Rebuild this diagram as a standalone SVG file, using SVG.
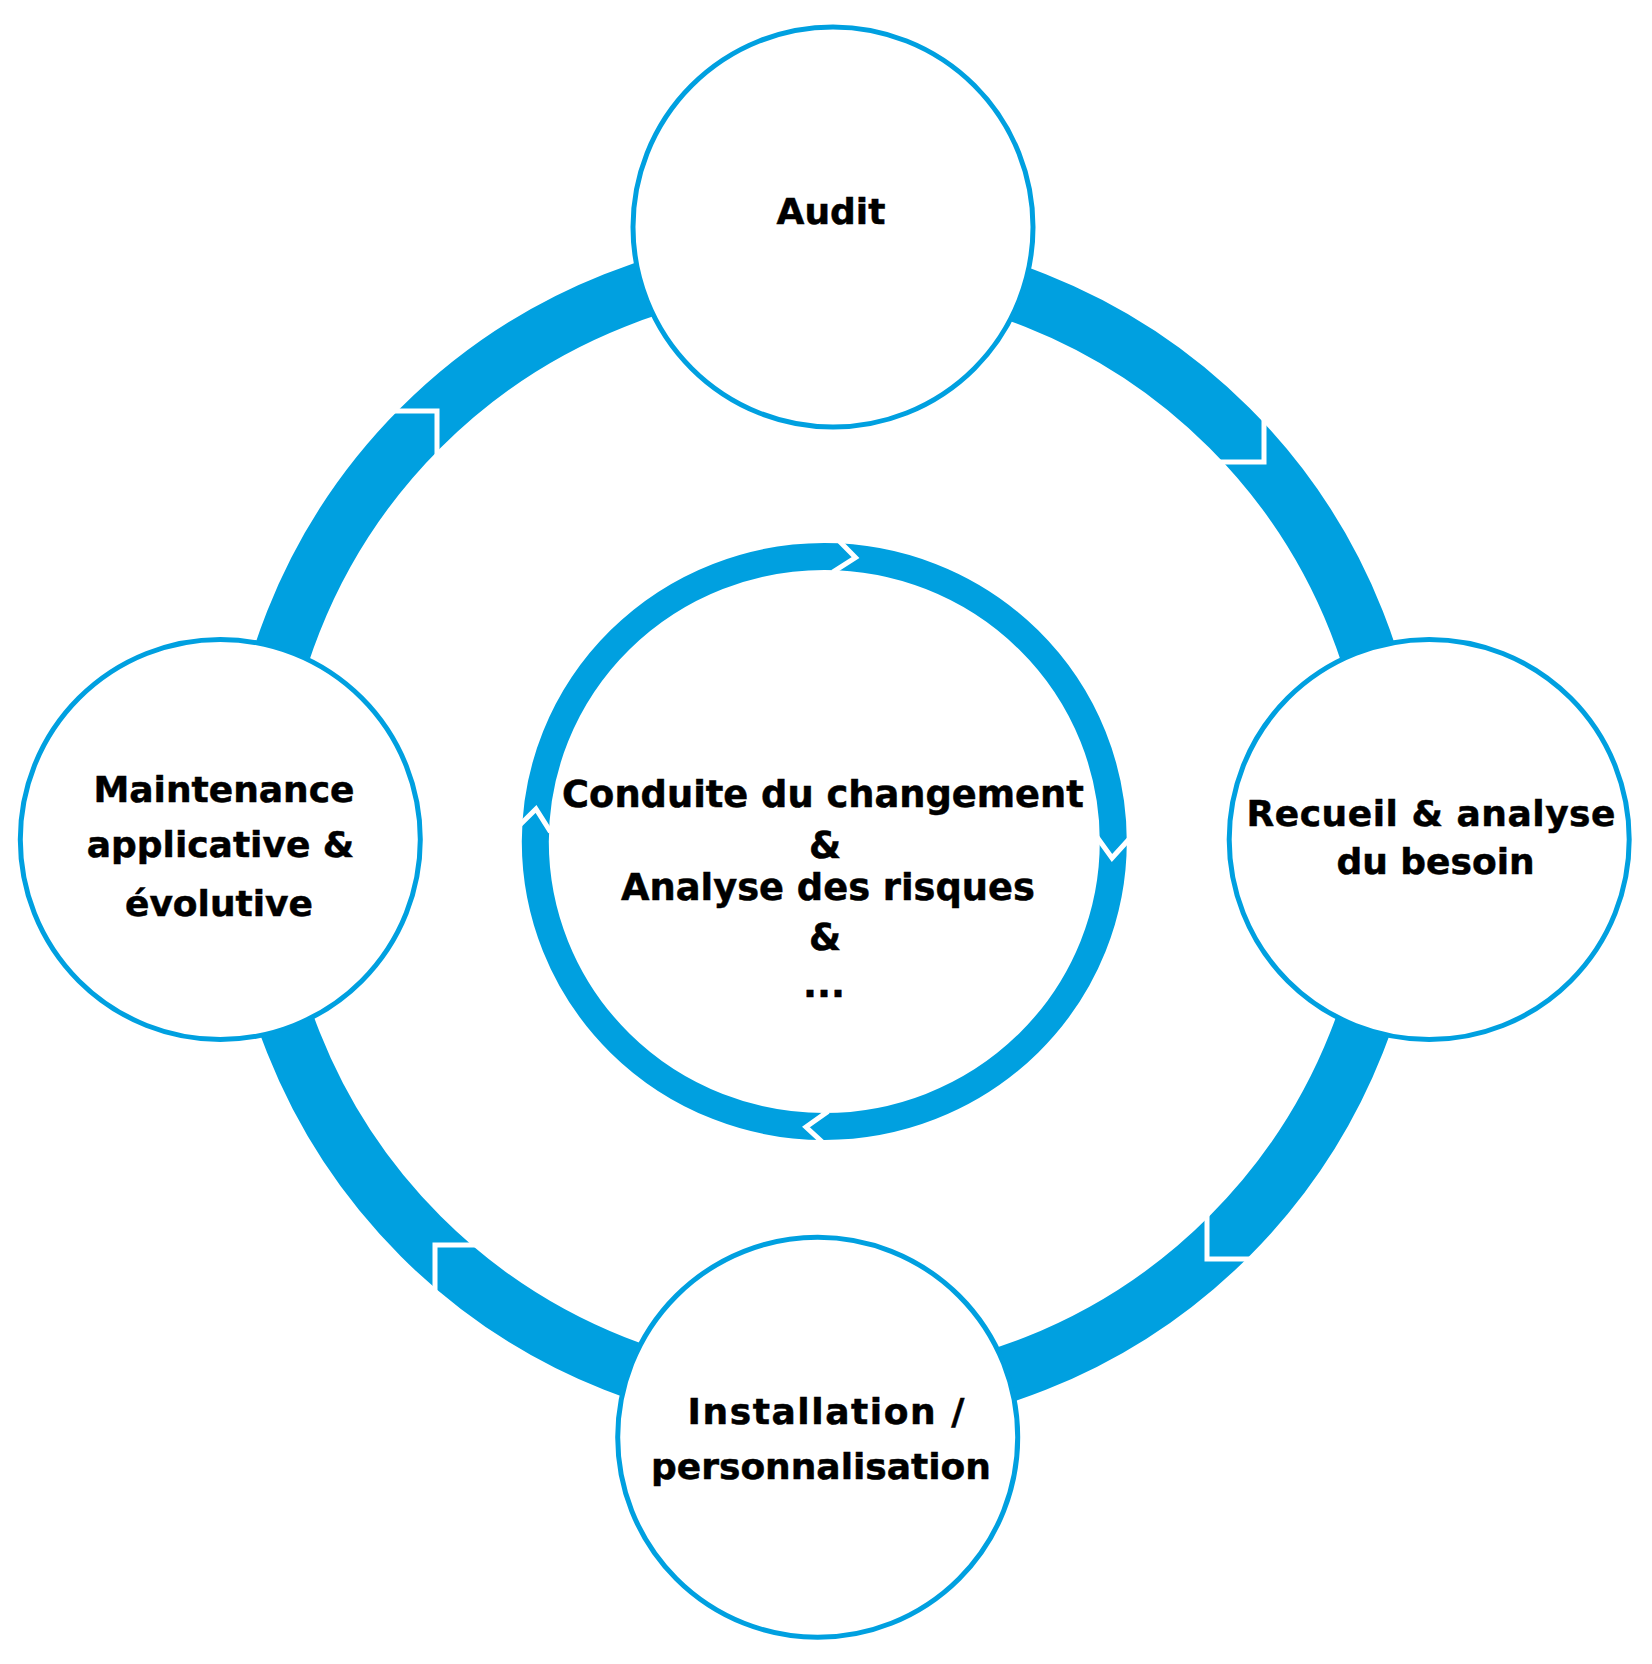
<svg xmlns="http://www.w3.org/2000/svg" width="1652" height="1664" viewBox="0 0 1652 1664">
  <style>
    .ring { fill: none; stroke: #00A0E0; }
    .notch { fill: none; stroke: #FFFFFF; stroke-width: 5; stroke-linejoin: miter; stroke-linecap: butt; }
    .node circle { fill: #FFFFFF; stroke: #00A0E0; stroke-width: 5; }
    .label { font-family: "DejaVu Sans", Verdana, sans-serif; font-weight: bold; font-size: 36px; fill: #000000; stroke: #000000; stroke-width: 0.5; text-anchor: middle; }
    .center-label { font-size: 36.8px; }
  </style>
  <defs>
    <polyline id="chev" points="-21,-17 0,0 -21,17"/>
  </defs>
  <rect width="1652" height="1664" fill="#FFFFFF"/>

  <g id="connectors">
    <circle class="ring" cx="825" cy="832" r="571.75" stroke-width="56.5"/>
    <polyline class="notch" points="390,411 437,411 437,460"/>
    <polyline class="notch" points="1264,414 1264,462 1216,462"/>
    <polyline class="notch" points="1207,1208 1207,1259 1255,1259"/>
    <polyline class="notch" points="480,1245 435,1245 435,1293"/>
  </g>

  <g id="node-center">
    <ellipse class="ring" cx="824.3" cy="841.5" rx="289" ry="285" stroke-width="27"/>
    <use href="#chev" class="notch" transform="translate(855.5,557.5) rotate(6.3)"/>
    <use href="#chev" class="notch" transform="translate(1112,858) rotate(93.2)"/>
    <use href="#chev" class="notch" transform="translate(806,1127) rotate(183.6)"/>
    <use href="#chev" class="notch" transform="translate(536,809) rotate(276.5)"/>
    <text class="label center-label" x="823" y="807">Conduite du changement</text>
    <text class="label center-label" x="825" y="858">&amp;</text>
    <text class="label center-label" x="828" y="900">Analyse des risques</text>
    <text class="label center-label" x="825" y="950">&amp;</text>
    <text class="label center-label" x="824" y="997">...</text>
  </g>

  <g id="node-audit" class="node">
    <circle cx="833" cy="227" r="200"/>
    <text class="label" x="831" y="224">Audit</text>
  </g>

  <g id="node-recueil" class="node">
    <circle cx="1429.2" cy="839.5" r="200"/>
    <text class="label" x="1431" y="826" textLength="369" lengthAdjust="spacing">Recueil &amp; analyse</text>
    <text class="label" x="1435.5" y="874">du besoin</text>
  </g>

  <g id="node-installation" class="node">
    <circle cx="817.7" cy="1437.3" r="200"/>
    <text class="label" x="826" y="1424" textLength="277" lengthAdjust="spacing">Installation /</text>
    <text class="label" x="821" y="1479">personnalisation</text>
  </g>

  <g id="node-maintenance" class="node">
    <circle cx="220.3" cy="839.5" r="200"/>
    <text class="label" x="224" y="802">Maintenance</text>
    <text class="label" x="220.5" y="857">applicative &amp;</text>
    <text class="label" x="219" y="916">évolutive</text>
  </g>
</svg>
